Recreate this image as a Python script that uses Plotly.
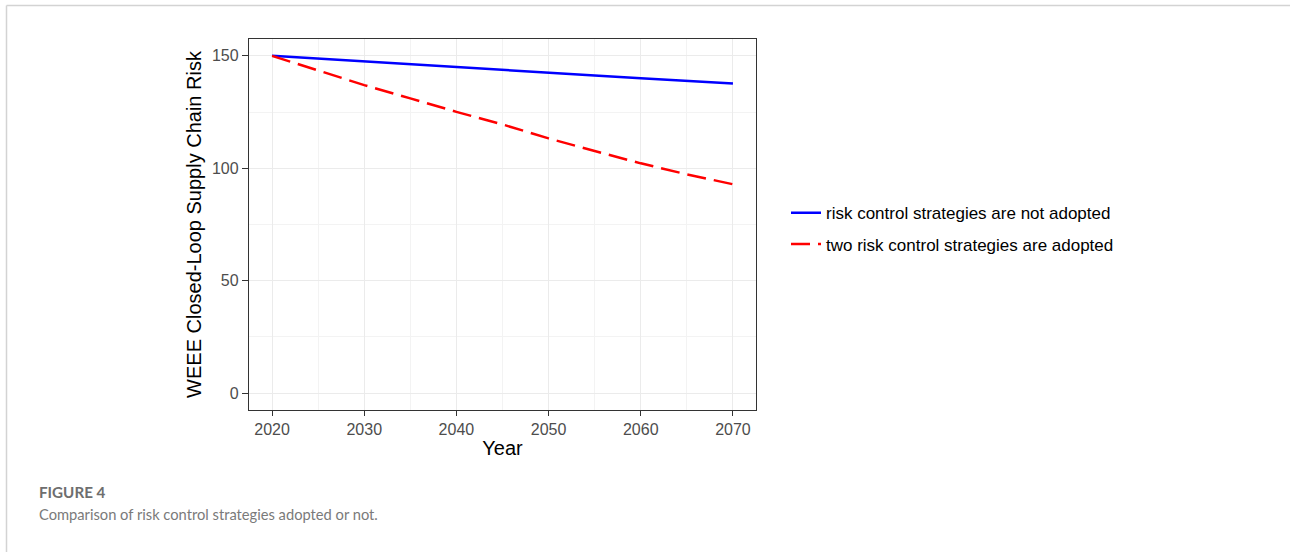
import plotly.graph_objects as go

# Data
years = [2020, 2025, 2030, 2035, 2040, 2045, 2050, 2055, 2060, 2065, 2070]
risk_not_adopted = [150.0, 148.8, 147.5, 146.3, 145.0, 143.8, 142.6, 141.3, 140.0, 138.9, 137.7]
risk_two_adopted = [150.0, 143.6, 137.0, 131.1, 125.1, 119.5, 113.3, 107.7, 102.2, 97.3, 92.9]

name_not = "risk control strategies are not adopted"
name_two = "two risk control strategies are adopted"
x_label = "Year"
y_label = "WEEE Closed-Loop Supply Chain Risk"
fig_label = "FIGURE 4"
caption = "Comparison of risk control strategies adopted or not."

W, H = 1290, 552
L, R, T, B = 249, 756, 39, 410.5
pw, ph = R - L, B - T

def px_x(p):
    return (p - L) / pw

def px_y(p):
    return (B - p) / ph

fig = go.Figure()
fig.add_trace(go.Scatter(
    x=years, y=risk_not_adopted, mode="lines", name=name_not,
    legendgroup="a",
    line=dict(color="#0000FF", width=2.5),
))
fig.add_trace(go.Scatter(
    x=years, y=risk_two_adopted, mode="lines", name=name_two,
    legendgroup="b",
    line=dict(color="#FF0000", width=2.5, dash="19px,8px"),
))

axis_font = dict(family="Liberation Sans, Arial, sans-serif", size=16, color="#4D4D4D")
title_font = dict(family="Liberation Sans, Arial, sans-serif", size=20, color="#000000")

fig.update_xaxes(
    range=[2017.5, 2072.5], tickmode="linear", tick0=2020, dtick=10,
    showgrid=True, gridcolor="#EBEBEB", gridwidth=1.2,
    minor=dict(showgrid=True, gridcolor="#F3F3F3", gridwidth=1, dtick=5, tick0=2020),
    zeroline=False, showline=True, linecolor="#333333", linewidth=1.3, mirror=True,
    ticks="outside", ticklen=5, tickcolor="#333333", tickwidth=1.2,
    tickfont=axis_font,
    title=dict(text=x_label, font=title_font, standoff=3),
)
fig.update_yaxes(
    range=[-7.5, 157.5], tickmode="linear", tick0=0, dtick=50,
    showgrid=True, gridcolor="#EBEBEB", gridwidth=1.2,
    minor=dict(showgrid=True, gridcolor="#F3F3F3", gridwidth=1, dtick=25, tick0=0),
    zeroline=False, showline=True, linecolor="#333333", linewidth=1.3, mirror=True,
    ticks="outside", ticklen=6, tickcolor="#333333", tickwidth=1.2,
    tickfont=axis_font,
    title=dict(text=y_label, font=title_font, standoff=4),
)

fig.update_layout(
    width=W, height=H,
    margin=dict(l=L, r=W - R, t=T, b=H - B, autoexpand=False),
    paper_bgcolor="white", plot_bgcolor="white",
    showlegend=True,
    legend=dict(
        x=px_x(786), xanchor="left", y=px_y(229), yanchor="middle",
        font=dict(family="Liberation Sans, Arial, sans-serif", size=17, color="#000000"),
        tracegroupgap=6, bgcolor="rgba(0,0,0,0)",
    ),
    shapes=[
        dict(type="line", xref="paper", yref="paper",
             x0=px_x(6.5), x1=px_x(1300), y0=px_y(5.5), y1=px_y(5.5),
             line=dict(color="#D3D3D3", width=1.5)),
        dict(type="line", xref="paper", yref="paper",
             x0=px_x(6.5), x1=px_x(6.5), y0=px_y(5.5), y1=px_y(560),
             line=dict(color="#D3D3D3", width=1.5)),
    ],
    annotations=[
        dict(text="<b>" + fig_label + "</b>", xref="paper", yref="paper",
             x=px_x(37), y=px_y(493), xanchor="left", yanchor="middle",
             showarrow=False,
             font=dict(family="Lato, sans-serif", size=15.2, color="#6E6E6E")),
        dict(text=caption, xref="paper", yref="paper",
             x=px_x(37), y=px_y(515), xanchor="left", yanchor="middle",
             showarrow=False,
             font=dict(family="Lato, sans-serif", size=14.7, color="#7A7A7A")),
    ],
)

fig.write_html("out.html", config={"displayModeBar": False},
               post_script="document.body.style.margin='0px';")
